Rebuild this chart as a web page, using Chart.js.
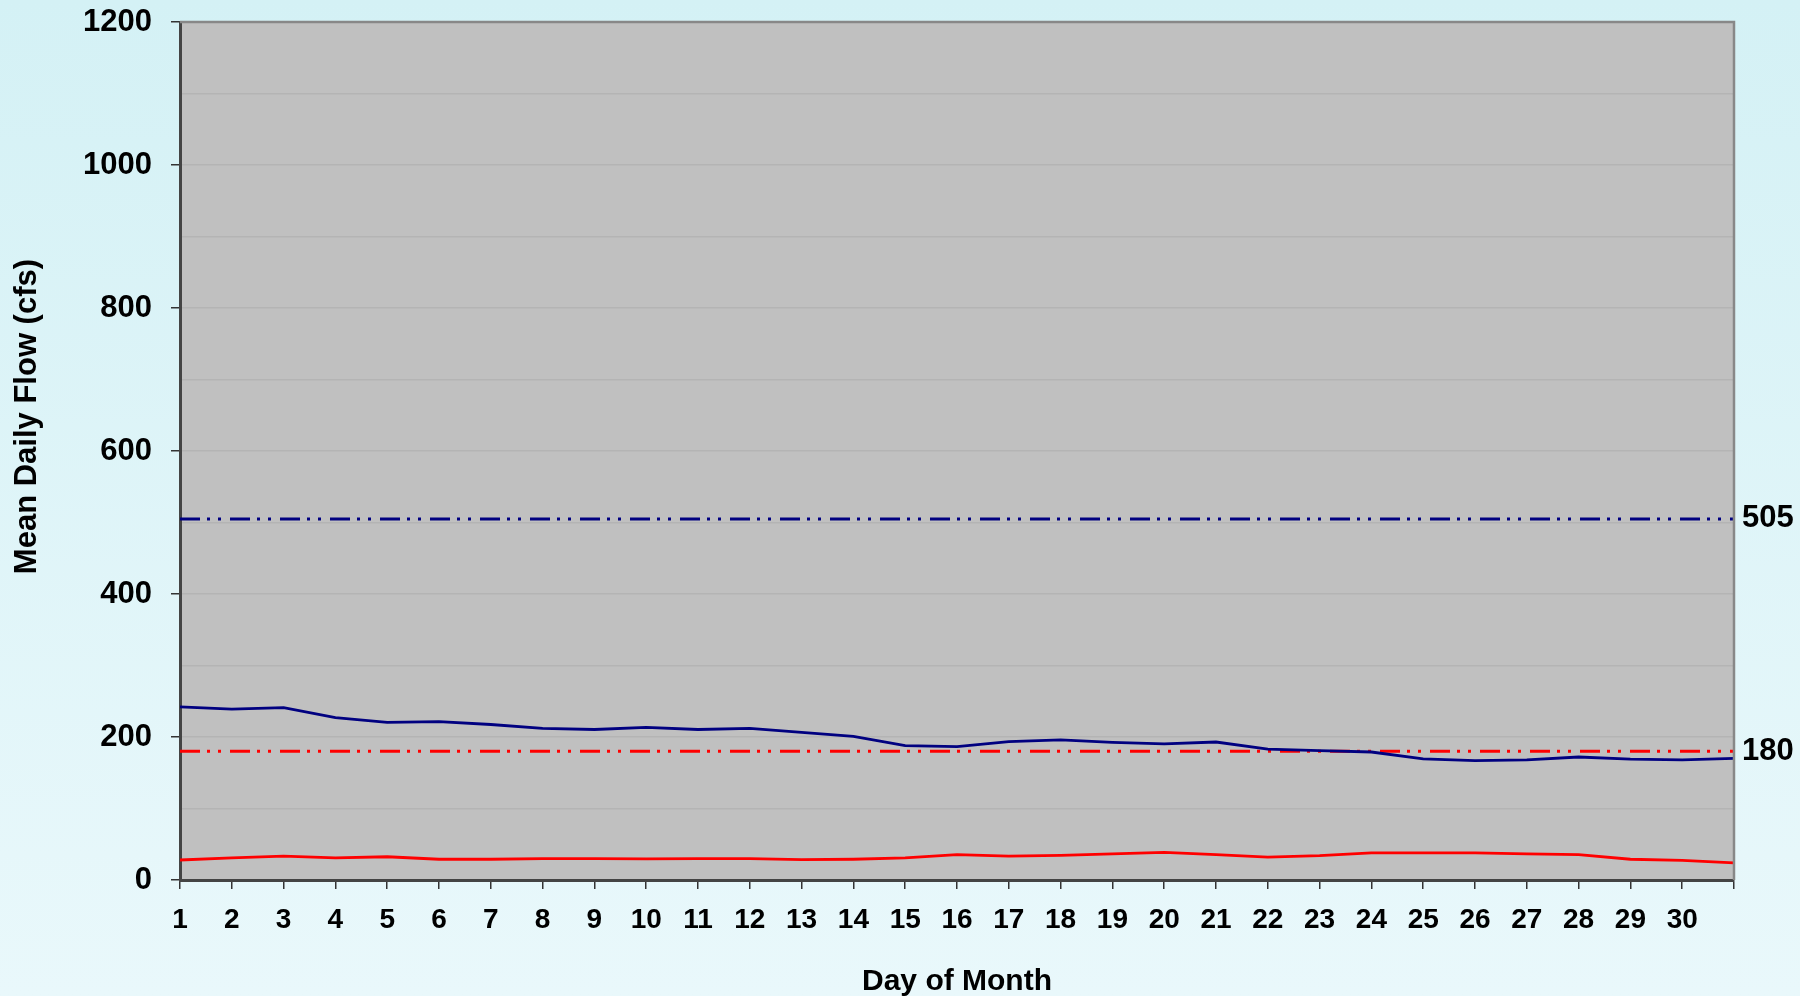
<!DOCTYPE html>
<html>
<head>
<meta charset="utf-8">
<script src="https://cdn.jsdelivr.net/npm/chart.js@4.4.1/dist/chart.umd.min.js"></script>
<style>
  html, body { margin: 0; padding: 0; }
  body {
    width: 1800px; height: 996px; overflow: hidden;
    background: linear-gradient(to bottom, #D4F1F5 0%, #E9F8FB 100%);
  }
  #c { display: block; }
</style>
</head>
<body>
<canvas id="c" width="1800" height="996"></canvas>
<script>
// ---- data ----
const days = [1,2,3,4,5,6,7,8,9,10,11,12,13,14,15,16,17,18,19,20,21,22,23,24,25,26,27,28,29,30,31];
const meanFlowBlue = [242, 239, 241, 227, 220.5, 221.5, 217.5, 212, 210.5, 213.5, 210.5, 212, 206.5, 201, 188, 186.5, 193.5, 196, 192.5, 190.5, 193, 183, 181, 179, 169.5, 167, 168, 172, 169, 168, 170];
const meanFlowRed = [28, 31, 33.5, 31, 32.5, 29, 29, 30, 30, 29.5, 30, 30, 28.5, 29, 31, 35.5, 33.5, 34.5, 36.5, 38.5, 35.5, 32, 34, 38, 38, 38, 36.5, 35.5, 29, 27.5, 24];
const thresholdBlue = 505;
const thresholdRed = 180;
const rightTickValues = [thresholdRed, thresholdBlue];
const xTickLabels = ['1','2','3','4','5','6','7','8','9','10','11','12','13','14','15','16','17','18','19','20','21','22','23','24','25','26','27','28','29','30',''];
const yTickLabels = ['0','200','400','600','800','1000','1200'];

const FONT = "'Liberation Sans', Arial, Helvetica, sans-serif";
const dashDotDot = [20, 7, 3, 8, 3, 9];

const toXY = arr => arr.map((v, i) => ({x: days[i], y: v}));
const flat = v => [{x: days[0], y: v}, {x: days[days.length - 1], y: v}];

const plotBg = {
  id: 'plotBg',
  beforeDraw(chart) {
    const {ctx, chartArea: a} = chart;
    ctx.save();
    ctx.fillStyle = '#C0C0C0';
    ctx.fillRect(a.left, a.top, a.right - a.left, a.bottom - a.top);
    ctx.restore();
  },
  afterDraw(chart) {
    const {ctx, chartArea: a} = chart;
    ctx.save();
    ctx.strokeStyle = '#888888';
    ctx.lineWidth = 2.5;
    ctx.beginPath();
    ctx.moveTo(a.left, a.top);
    ctx.lineTo(a.right, a.top);
    ctx.lineTo(a.right, a.bottom);
    ctx.stroke();
    ctx.restore();
  }
};

function noPad(s) { s.paddingTop = 0; s.paddingBottom = 0; s.paddingLeft = 0; s.paddingRight = 0; }

new Chart(document.getElementById('c'), {
  type: 'line',
  data: {
    datasets: [
      { label: 'Mean daily flow', data: toXY(meanFlowBlue), borderColor: '#000080', borderWidth: 2.8, pointRadius: 0, tension: 0, order: 1 },
      { label: 'Mean daily flow (low)', data: toXY(meanFlowRed), borderColor: '#FF0000', borderWidth: 2.8, pointRadius: 0, tension: 0, order: 2 },
      { label: 'Threshold 505', data: flat(thresholdBlue), borderColor: '#000080', borderWidth: 3, borderDash: dashDotDot, pointRadius: 0, order: 3 },
      { label: 'Threshold 180', data: flat(thresholdRed), borderColor: '#FF0000', borderWidth: 3, borderDash: dashDotDot, pointRadius: 0, order: 3 }
    ]
  },
  options: {
    responsive: false,
    devicePixelRatio: 1,
    animation: false,
    layout: { padding: { top: 22, left: 0, right: 0, bottom: 0 } },
    plugins: { legend: { display: false }, tooltip: { enabled: false } },
    scales: {
      x: {
        type: 'linear', min: 1, max: 31,
        afterFit(s) { s.height = 116; noPad(s); },
        ticks: {
          stepSize: 1, autoSkip: false, maxRotation: 0, padding: 14,
          color: '#000', font: { family: FONT, size: 28, weight: 'bold' },
          callback: (v) => xTickLabels[v - 1] ?? ''
        },
        grid: { drawOnChartArea: false, drawTicks: true, tickLength: 9, color: '#333333', lineWidth: 1.5 },
        border: { display: true, color: '#444444', width: 3 },
        title: {
          display: true, text: 'Day of Month', color: '#000',
          font: { family: FONT, size: 30, weight: 'bold' }, padding: { top: 0, bottom: -4 }
        }
      },
      y: {
        type: 'linear', min: 0, max: 1200, position: 'left',
        afterFit(s) { s.width = 180; noPad(s); },
        ticks: {
          stepSize: 100, padding: 19, color: '#000',
          font: { family: FONT, size: 31, weight: 'bold' },
          callback: (v) => (v % 200 === 0 ? yTickLabels[v / 200] : '')
        },
        grid: {
          drawTicks: true, tickLength: 9, lineWidth: 1.5,
          color: (c) => '#B4B4B4',
          tickColor: (c) => (c.tick && c.tick.value % 200 === 0 ? '#333333' : 'rgba(0,0,0,0)')
        },
        border: { display: true, color: '#444444', width: 3 },
        title: {
          display: true, text: '        Mean Daily Flow (cfs)', color: '#000',
          font: { family: FONT, size: 31, weight: 'bold' }, padding: { top: 9, bottom: 0 }
        }
      },
      y2: {
        type: 'linear', min: 0, max: 1200, position: 'right',
        afterFit(s) { s.width = 66; noPad(s); },
        afterBuildTicks(s) { s.ticks = rightTickValues.map(v => ({ value: v })); },
        ticks: {
          padding: 8, color: '#000', autoSkip: false,
          font: { family: FONT, size: 31, weight: 'bold' },
          callback: (v) => String(v)
        },
        grid: { display: false, drawTicks: false },
        border: { display: false }
      }
    }
  },
  plugins: [plotBg]
});
</script>
</body>
</html>
